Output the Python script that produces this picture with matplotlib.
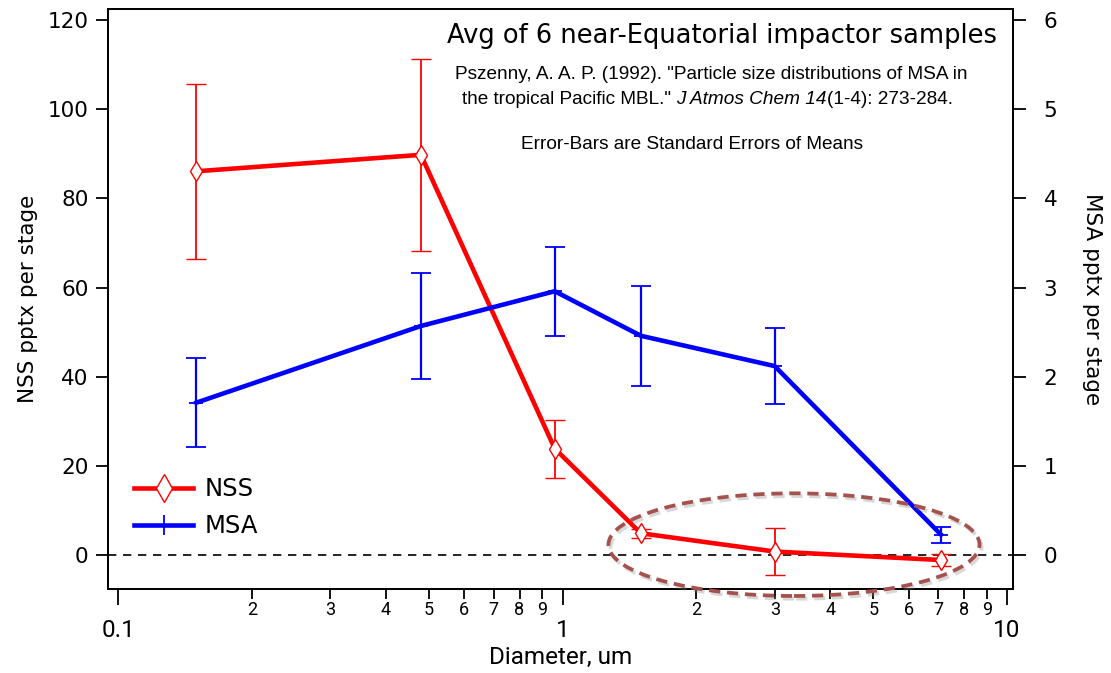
import matplotlib
matplotlib.use('Agg')
import matplotlib.pyplot as plt
from matplotlib.patches import Ellipse
from matplotlib.lines import Line2D
import matplotlib.patheffects as pe

# impactor stage diameters (um) and stage averages
diameter = [0.15, 0.48, 0.96, 1.5, 3.0, 7.1]
nss = [86.1, 89.8, 23.9, 4.9, 0.8, -1.1]
nss_err = [19.6, 21.6, 6.5, 1.0, 5.2, 1.3]
msa = [1.71, 2.57, 2.96, 2.46, 2.12, 0.23]
msa_err = [0.50, 0.59, 0.50, 0.56, 0.43, 0.09]

nss_ticks = [0, 20, 40, 60, 80, 100, 120]
msa_ticks = [0, 1, 2, 3, 4, 5, 6]
major_ticks = [0.1, 1, 10]
major_labels = ['0.1', '1', '10']
minor_ticks = [m * d for d in (0.1, 1) for m in range(2, 10)]
minor_labels = [str(m) for d in (0.1, 1) for m in range(2, 10)]

narrow = ['Roboto', 'DejaVu Sans']
cite = ['Liberation Sans', 'DejaVu Sans']

fig = plt.figure(figsize=(11.11, 6.73), dpi=100)
ax = fig.add_axes([0.0972, 0.1248, 0.8146, 0.8618])
ax2 = ax.twinx()

ax.set_xscale('log')
ax.set_xlim(0.0949, 10.31)
ax.set_ylim(-7.6, 122.5)
ax2.set_ylim(-7.6 / 20, 122.5 / 20)

# zero line
ax.axhline(0, color='black', ls=(0, (5, 4)), lw=1.2, zorder=1)

# NSS on left axis
ax.errorbar(diameter, nss, yerr=nss_err, color='red', lw=3.3, marker='d', ms=10.5,
            mfc='white', mec='red', mew=1.0, elinewidth=1.3, capsize=7.5, capthick=1.8,
            zorder=3)
# MSA on right axis
ax2.errorbar(diameter, msa, yerr=msa_err, color='blue', lw=3.3, marker='+', ms=10,
             mew=1.3, elinewidth=1.6, capsize=7.5, capthick=2.0, zorder=3)

# ticks
ax.set_yticks(nss_ticks)
ax2.set_yticks(msa_ticks)
ax.tick_params(axis='y', direction='out', length=9, width=1.3, labelsize=15.5, pad=5)
ax2.tick_params(axis='y', direction='out', length=9, width=1.3, labelsize=15.5, pad=13)
ax.set_xticks(major_ticks, major_labels, fontsize=17.5, family=narrow)
ax.set_xticks(minor_ticks, minor_labels, minor=True, fontsize=13, family=narrow)
ax.tick_params(axis='x', which='major', direction='out', length=11.5, width=1.3, pad=10)
ax.tick_params(axis='x', which='minor', direction='out', length=7.5, width=1.3, pad=1)
for a in (ax, ax2):
    for s in a.spines.values():
        s.set_linewidth(1.3)

ax.set_xlabel('Diameter, um', fontsize=17.5, family=narrow)
ax.xaxis.set_label_coords(0.5, -0.1175)
ax.xaxis.label.set_va('center')
ax.set_ylabel('NSS pptx per stage', fontsize=15.5)
ax.yaxis.set_label_coords(-0.088, 0.5)
ax.yaxis.label.set_va('center')
ax2.set_ylabel('MSA pptx per stage', fontsize=15.5, rotation=270)
ax2.yaxis.set_label_coords(1.0877, 0.5)
ax2.yaxis.label.set_va('center')

# legend
handles = [Line2D([], [], color='red', lw=3.3, marker='d', ms=14, mfc='white', mec='red', mew=1.0),
           Line2D([], [], color='blue', lw=3.3, marker='+', ms=14, mew=1.3)]
ax.legend(handles, ['NSS', 'MSA'], loc='center left', bbox_to_anchor=(0.005, 0.14),
          frameon=False, fontsize=17.5, handlelength=2.4, handletextpad=0.5,
          labelspacing=0.55)

# annotations
fig.text(0.8974, 0.9361, 'Avg of 6 near-Equatorial impactor samples', ha='right',
         va='baseline', fontsize=18.5)
fig.text(0.4095, 0.8826, 'Pszenny, A. A. P. (1992). "Particle size distributions of MSA in',
         ha='left', va='baseline', fontsize=13.7, family=cite)
t1 = fig.text(0.4158, 0.845, 'the tropical Pacific MBL." ', ha='left', va='baseline',
              fontsize=13.7, family=cite)
t2 = ax.annotate('J Atmos Chem 14', xy=(1, 0), xycoords=t1, va='bottom', ha='left',
                 fontsize=13.7, family=cite, style='italic')
ax.annotate('(1-4): 273-284.', xy=(1, 0), xycoords=t2, va='bottom', ha='left',
            fontsize=13.7, family=cite)
fig.text(0.469, 0.7786, 'Error-Bars are Standard Errors of Means', ha='left',
         va='baseline', fontsize=13.7, family=cite)

# highlight of the near-zero stages
ell = Ellipse((0.758, 0.0765), 0.410, 0.177, transform=ax.transAxes, fill=False,
              ec='#a5524f', ls=(0, (3, 1.8)), lw=2.7, clip_on=False, zorder=5,
              path_effects=[pe.SimpleLineShadow(offset=(1.5, -2), shadow_color='gray', alpha=0.3),
                            pe.Normal()])
ax2.add_patch(ell)

fig.savefig('out.png', dpi=100)
